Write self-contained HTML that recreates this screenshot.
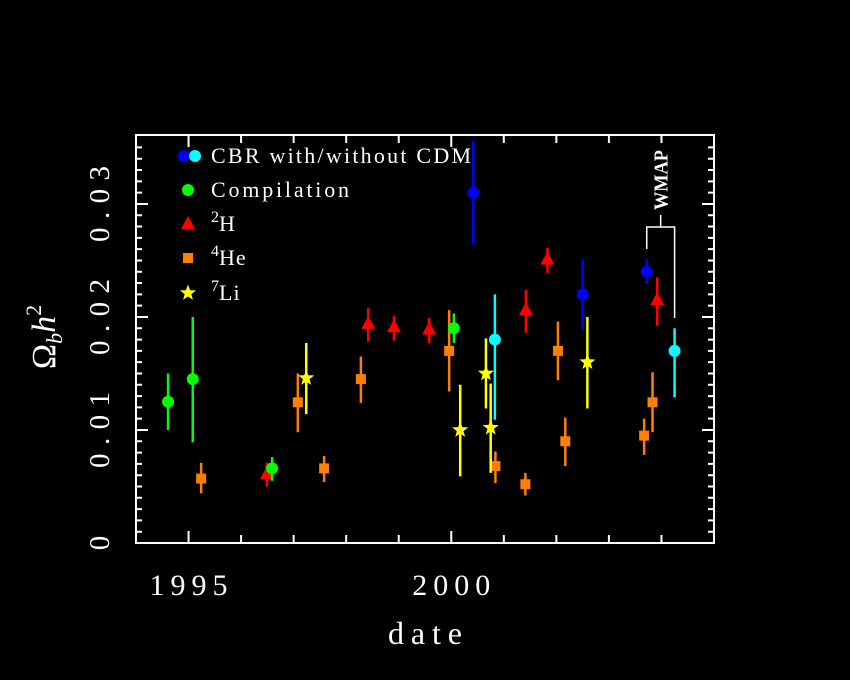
<!DOCTYPE html>
<html><head><meta charset="utf-8"><style>
html,body{margin:0;padding:0;background:#000;}
svg{display:block;}
text{font-family:"Liberation Serif",serif;fill:#fff;}
</style></head><body>
<svg id="chart" width="850" height="680" viewBox="0 0 850 680">
<rect x="0" y="0" width="850" height="680" fill="#000"/>
<g id="axes"></g>
<g id="marks"></g>
<g id="legend"></g>
</svg>
<script>
const xTickYears = [1995, 2000];
const yTickValues = [0, 0.01, 0.02, 0.03];
const yTickLabels = ["0", "0.01", "0.02", "0.03"];
// [year, value, low, high]
const compData = [[1994.61,0.0125,0.0100,0.0150],[1995.08,0.0145,0.0089,0.0200],[1996.59,0.0066,0.0055,0.0076],[2000.05,0.0190,0.0177,0.0203]];
const h2Data = [[1996.49,0.0060,0.0050,0.0071],[1998.42,0.0193,0.0178,0.0208],[1998.91,0.0190,0.0179,0.0201],[1999.58,0.0188,0.0177,0.0199],[2001.42,0.0205,0.0186,0.0224],[2001.83,0.0250,0.0239,0.0261],[2003.92,0.0214,0.0192,0.0235]];
const he4Data = [[1995.24,0.0057,0.0044,0.0071],[1997.08,0.01245,0.0098,0.0150],[1997.58,0.0066,0.0054,0.0077],[1998.28,0.0145,0.0124,0.0165],[1999.96,0.0170,0.0134,0.0206],[2000.84,0.0068,0.0053,0.0081],[2001.41,0.0052,0.0042,0.0062],[2002.03,0.0170,0.0144,0.0196],[2002.17,0.0090,0.0068,0.0111],[2003.67,0.0095,0.0078,0.0110],[2003.83,0.01245,0.0098,0.0151]];
const li7Data = [[1997.24,0.0146,0.0114,0.0177],[2000.17,0.0100,0.0059,0.0140],[2000.66,0.0150,0.0119,0.0181],[2000.75,0.0102,0.0062,0.0141],[2002.59,0.0160,0.0119,0.0200]];
const cbrCdmData = [[2000.42,0.0310,0.0264,0.0356],[2002.50,0.0220,0.0189,0.0251],[2003.72,0.0240,0.0229,0.0251]];
const cbrNoCdmData = [[2000.83,0.0180,0.0109,0.0220],[2004.25,0.0170,0.0129,0.0190]];

const NS="http://www.w3.org/2000/svg";
const L=136,R=714,T=135,B=543;
const X0=1994,X1=2005,Y0=0,Y1=0.0361;
function xs(v){return L+(v-X0)/(X1-X0)*(R-L);}
function ys(v){return B-(v-Y0)/(Y1-Y0)*(B-T);}
function mk(tag,attrs,parent){const e=document.createElementNS(NS,tag);for(const k in attrs)e.setAttribute(k,attrs[k]);parent.appendChild(e);return e;}
const axes=document.getElementById('axes'),marks=document.getElementById('marks'),legend=document.getElementById('legend');

let fr=mk('rect',{x:L,y:T,width:R-L,height:B-T,fill:'none',stroke:'#fff','stroke-width':2},axes);


for(let y=X0+1;y<X1;y++){
  const big=xTickYears.includes(y);
  const len=big?12:8;
  let t=mk('path',{d:`M${xs(y)},${B}v${-len}M${xs(y)},${T}v${len}`,stroke:'#fff','stroke-width':2},axes);
  
  
}
for(let i=1;i<36;i++){
  const v=i*0.001;const big=i%10===0;const len=big?12:6;
  let t=mk('path',{d:`M${L},${ys(v)}h${len}M${R},${ys(v)}h${-len}`,stroke:'#fff','stroke-width':2},axes);
  
  
}
xTickYears.forEach(y=>{
  let t=mk('text',{x:xs(y),y:595,'font-size':30,'text-anchor':'middle',textLength:78,lengthAdjust:'spacing'},axes);t.textContent=String(y);
  
  
});
yTickLabels.forEach((lab,i)=>{
  const v=yTickValues[i];
  const attrs={x:0,y:0,'font-size':29,'text-anchor':'middle',transform:`translate(109,${ys(v)}) rotate(-90)`};
  if(lab.length>1){attrs.textLength=76;attrs.lengthAdjust='spacing';}
  let t=mk('text',attrs,axes);t.textContent=lab;
  
  
});
let xt=mk('text',{x:425,y:644,'font-size':32,'text-anchor':'middle',textLength:74,lengthAdjust:'spacing'},axes);xt.textContent='date';


let yt=mk('text',{x:0,y:0,'font-size':34,'text-anchor':'middle',transform:'translate(55,337) rotate(-90)'},axes);
yt.innerHTML='Ω<tspan font-size="22" dy="7" font-style="italic">b</tspan><tspan dy="-7" font-style="italic">h</tspan><tspan font-size="22" dy="-14">2</tspan>';



function marker(type,cx,cy,color,parent){
  if(type==='circle')return mk('circle',{cx,cy,r:6,fill:color},parent);
  if(type==='tri')return mk('path',{d:`M${cx},${cy-9}L${cx+7},${cy+4}L${cx-7},${cy+4}Z`,fill:color},parent);
  if(type==='sq')return mk('rect',{x:cx-5,y:cy-5,width:10,height:10,fill:color},parent);
  if(type==='star'){let p='';for(let k=0;k<10;k++){const a=-Math.PI/2+k*Math.PI/5;const r=k%2?3.5:8.5;p+=(k?'L':'M')+(cx+r*Math.cos(a)).toFixed(1)+','+(cy+r*Math.sin(a)).toFixed(1);}return mk('path',{d:p+'Z',fill:color},parent);}
}
function series(data,type,color,name){
  data.forEach(d=>{
    const g=mk('g',{},marks);
    
    
    mk('line',{x1:xs(d[0]),x2:xs(d[0]),y1:ys(d[2]),y2:ys(d[3]),stroke:color,'stroke-width':2.5},g);
    marker(type,xs(d[0]),ys(d[1]),color,g);
  });
}
series(he4Data,'sq','#ff8000','helium-4');
series(li7Data,'star','#ffff00','lithium-7');
series(h2Data,'tri','#ff0000','deuterium');
series(compData,'circle','#00ff00','compilation');
series(cbrCdmData,'circle','#0000ff','cbr-with-cdm');
series(cbrNoCdmData,'circle','#00ffff','cbr-without-cdm');

const wx1=xs(cbrCdmData[2][0]),wx2=xs(cbrNoCdmData[1][0]),wmid=(wx1+wx2)/2;
let br=mk('path',{d:`M${wx1},249V227H${wx2}V318M${wmid},227V215`,fill:'none',stroke:'#fff','stroke-width':1.5},marks);


let wt=mk('text',{x:0,y:0,'font-size':20,'font-weight':'bold','text-anchor':'middle',textLength:60,lengthAdjust:'spacingAndGlyphs',transform:`translate(${wmid+7},180) rotate(-90)`},marks);wt.textContent='WMAP';



const legRows=[['circle2','CBR with/without CDM',156,260],['circle','Compilation',190,138],['tri','H',224,0],['sq','He',258,0],['star','Li',293,0]];
const legColors=['#0000ff','#00ff00','#ff0000','#ff8000','#ffff00'];
const legSup=['','','2','4','7'];
legRows.forEach((r,i)=>{
  const g=mk('g',{},legend);
  
  
  if(r[0]==='circle2'){marker('circle',184,r[2],'#0000ff',g);marker('circle',195,r[2],'#00ffff',g);}
  else marker(r[0],188,r[2]+(r[0]==='tri'?1:0),legColors[i],g);
  const at={x:211,y:r[2]+7,'font-size':22};
  if(r[3]){at.textLength=r[3];at.lengthAdjust='spacing';}
  const t=mk('text',at,g);
  if(i>=2){t.innerHTML='<tspan font-size="16" dy="-9">'+legSup[i]+'</tspan><tspan dy="9" letter-spacing="1">'+r[1]+'</tspan>';}
  else t.textContent=r[1];
});
</script>
</body></html>
